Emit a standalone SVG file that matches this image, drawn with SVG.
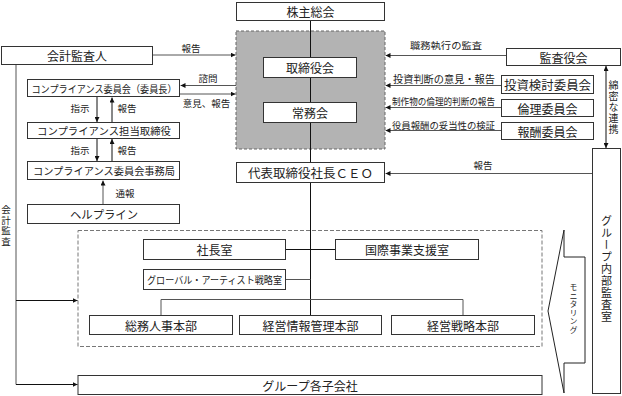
<svg xmlns="http://www.w3.org/2000/svg" width="622" height="396" viewBox="0 0 622 396">
<defs>
<marker id="ah" viewBox="0 0 6 6" refX="6" refY="3" markerWidth="5" markerHeight="5" orient="auto-start-reverse" markerUnits="userSpaceOnUse">
<path d="M0,0 L6,3 L0,6 z" fill="#111"/>
</marker>
<style>
text{font-family:"Noto Sans CJK JP","Noto Sans CJK SC",sans-serif;fill:#222;text-anchor:middle;dominant-baseline:central}
.b{fill:#fff;stroke:#333;stroke-width:1}
.c{stroke:#555;stroke-width:1;fill:none}
.k{stroke:#111;stroke-width:1;fill:none}
.a{marker-end:url(#ah)}
.aa{marker-end:url(#ah);marker-start:url(#ah)}
.t12{font-size:12px}
.t10{font-size:10px}
.lab{font-size:9.5px}
.v{writing-mode:vertical-rl;text-orientation:upright;dominant-baseline:auto}
</style>
</defs>

<g id="board-area">
<rect x="236" y="31" width="149" height="118" fill="#b3b3b3" stroke="#666" stroke-dasharray="3,2"/>
</g>
<g id="group-area">
<rect x="78" y="230.5" width="464" height="116" fill="none" stroke="#777" stroke-dasharray="4,2"/>
</g>

<g id="connectors">
<path class="k" d="M310.5,20 V315"/>
<path class="c a" d="M153,55 H235.5"/>
<path class="c a" d="M236,85.5 H180.5"/>
<path class="c a" d="M180,94 H235.5"/>
<path class="k a" d="M97,97 V122"/>
<path class="k a" d="M112,122 V97.5"/>
<path class="k a" d="M97,138.5 V161"/>
<path class="k a" d="M112,161.5 V139"/>
<path class="c a" d="M103,204.5 V180.5"/>
<path class="c" d="M16,64.5 V384.5"/>
<path class="k a" d="M16,300.5 H77.5"/>
<path class="k a" d="M16,384.5 H77.5"/>
<path class="c a" d="M506,55.5 H385.5"/>
<path class="c a" d="M501,85.5 H385.5"/>
<path class="c a" d="M501,107.5 H385.5"/>
<path class="c a" d="M501,130.5 H385.5"/>
<path class="k aa" d="M606,66 V148"/>
<path class="c a" d="M592,173.5 H385.5"/>
<path class="k" d="M285.5,249.5 H335.5"/>
<path class="c" d="M285.5,279.5 H310.5"/>
<path class="c" d="M161,315.5 V299.5 H463 V315.5"/>
<text class="lab" x="191" y="48">報告</text>
<text class="lab" x="208" y="78">諮問</text>
<text class="lab" x="206.5" y="103">意見、報告</text>
<text class="lab" x="80" y="108">指示</text>
<text class="lab" x="127" y="108">報告</text>
<text class="lab" x="80" y="150">指示</text>
<text class="lab" x="127" y="150">報告</text>
<text class="lab" x="125" y="193">通報</text>
<text class="lab" x="446" y="45" textLength="72" lengthAdjust="spacingAndGlyphs">職務執行の監査</text>
<text class="t10" x="444" y="78.5" textLength="102" lengthAdjust="spacingAndGlyphs">投資判断の意見・報告</text>
<text class="lab" x="443.5" y="100.5" textLength="103" lengthAdjust="spacingAndGlyphs">制作物の倫理的判断の報告</text>
<text class="lab" x="443.5" y="124.5" textLength="103" lengthAdjust="spacingAndGlyphs">役員報酬の妥当性の検証</text>
<text class="lab" x="483" y="165">報告</text>
<text class="t10 v" x="613.5" y="108" style="letter-spacing:1px">綿密な連携</text>
<text class="v" x="6" y="226" style="font-size:9.5px;letter-spacing:1px">会計監査</text>
</g>

<g id="shareholders">
<rect class="b" x="236.5" y="2.5" width="148" height="18"/>
<text class="t12" x="310.5" y="11.5">株主総会</text>
</g>
<g id="board">
<rect class="b" x="263.5" y="57.5" width="93" height="20"/>
<text class="t12" x="310" y="67.5">取締役会</text>
</g>
<g id="executive-committee">
<rect class="b" x="263.5" y="102.5" width="93" height="20"/>
<text class="t12" x="310" y="112.5">常務会</text>
</g>
<g id="ceo">
<rect class="b" x="236.5" y="162.5" width="148" height="20"/>
<text class="t12" x="310.5" y="172.5" textLength="125" lengthAdjust="spacingAndGlyphs">代表取締役社長ＣＥＯ</text>
</g>
<g id="accounting-auditor">
<rect class="b" x="1.5" y="46.5" width="151" height="18"/>
<text class="t12" x="77" y="55.5">会計監査人</text>
</g>
<g id="compliance-committee">
<rect class="b" x="27.5" y="79.5" width="152" height="17"/>
<text class="t10" x="104" y="88" textLength="145" lengthAdjust="spacingAndGlyphs">コンプライアンス委員会（委員長）</text>
</g>
<g id="compliance-director">
<rect class="b" x="27.5" y="122.5" width="152" height="16"/>
<text class="t10" x="104" y="130.5" textLength="134" lengthAdjust="spacingAndGlyphs">コンプライアンス担当取締役</text>
</g>
<g id="compliance-office">
<rect class="b" x="27.5" y="161.5" width="152" height="18"/>
<text class="t10" x="104" y="170.5" textLength="142" lengthAdjust="spacingAndGlyphs">コンプライアンス委員会事務局</text>
</g>
<g id="helpline">
<rect class="b" x="27.5" y="204.5" width="152" height="19"/>
<text x="104" y="214" style="font-size:11.5px" textLength="68" lengthAdjust="spacingAndGlyphs">ヘルプライン</text>
</g>
<g id="audit-board">
<rect class="b" x="506.5" y="48.5" width="114" height="17"/>
<text class="t12" x="563.5" y="57">監査役会</text>
</g>
<g id="investment-committee">
<rect class="b" x="501.5" y="75.5" width="92" height="18"/>
<text class="t12" x="547.5" y="84.5" textLength="87" lengthAdjust="spacingAndGlyphs">投資検討委員会</text>
</g>
<g id="ethics-committee">
<rect class="b" x="501.5" y="99.5" width="92" height="17"/>
<text class="t12" x="547.5" y="108">倫理委員会</text>
</g>
<g id="compensation-committee">
<rect class="b" x="501.5" y="122.5" width="92" height="17"/>
<text class="t12" x="547.5" y="131">報酬委員会</text>
</g>
<g id="internal-audit">
<rect class="b" x="592.5" y="148.5" width="28" height="245"/>
<text class="v" x="606.5" y="269.5" style="font-size:11px;letter-spacing:1px">グループ内部監査室</text>
</g>
<g id="monitoring">
<polygon points="548,311 564,230 564,257 585,257 585,363 564,363 564,393" fill="#fff" stroke="#222" stroke-width="1"/>
<text class="v" x="573.5" y="308.5" style="font-size:8px;letter-spacing:0.5px">モニタリング</text>
</g>
<g id="president-office">
<rect class="b" x="143.5" y="239.5" width="142" height="20"/>
<text class="t12" x="214.5" y="249.5">社長室</text>
</g>
<g id="intl-support">
<rect class="b" x="335.5" y="239.5" width="143" height="20"/>
<text class="t12" x="407" y="249.5">国際事業支援室</text>
</g>
<g id="global-artist">
<rect class="b" x="143.5" y="269.5" width="142" height="20"/>
<text class="t10" x="214.5" y="279.5" textLength="135" lengthAdjust="spacingAndGlyphs">グローバル・アーティスト戦略室</text>
</g>
<g id="general-affairs">
<rect class="b" x="89.5" y="315.5" width="143" height="19"/>
<text class="t12" x="161" y="325">総務人事本部</text>
</g>
<g id="management-info">
<rect class="b" x="239.5" y="315.5" width="142" height="19"/>
<text class="t12" x="310.5" y="325">経営情報管理本部</text>
</g>
<g id="strategy">
<rect class="b" x="391.5" y="315.5" width="143" height="19"/>
<text class="t12" x="463" y="325">経営戦略本部</text>
</g>
<g id="subsidiaries">
<rect class="b" x="78" y="375.5" width="464" height="19"/>
<text class="t12" x="310" y="385">グループ各子会社</text>
</g>
</svg>
